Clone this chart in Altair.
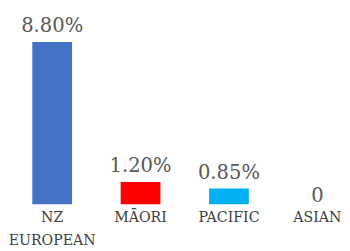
import altair as alt
import pandas as pd

categories = ["NZ EUROPEAN", "MĀORI", "PACIFIC", "ASIAN"]
values = [8.80, 1.20, 0.85, 0.0]
labels = ["8.80%", "1.20%", "0.85%", "0"]
colors = ["#4472C4", "#FF0000", "#00B0F0", "#A5A5A5"]

FONT = "DejaVu Serif"

df = pd.DataFrame({"cat": categories, "val": values, "label": labels})

x = alt.X(
    "cat:N",
    sort=categories,
    scale=alt.Scale(range=[0, 362], paddingInner=0.55, paddingOuter=0.275),
    axis=alt.Axis(
        title=None, domain=False, ticks=False, grid=False, labelAngle=0,
        labelFont=FONT, labelFontSize=14.5, labelColor="#404040",
        labelPadding=7, labelLineHeight=23, labelBaseline="top",
        labelExpr="split(datum.label, ' ')",
    ),
)
y = alt.Y("val:Q", scale=alt.Scale(domain=[0, 8.8], nice=False, zero=True), axis=None)

bars = alt.Chart(df).mark_bar().encode(
    x=x, y=y,
    color=alt.Color("cat:N", sort=categories,
                    scale=alt.Scale(domain=categories, range=colors), legend=None),
)

txt_pos = alt.Chart(df).transform_filter("datum.val > 0").mark_text(
    font=FONT, fontSize=20, color="#595959", dy=-10, baseline="alphabetic"
).encode(x=x, y=y, text=alt.Text("label:N"))

txt_zero = alt.Chart(df).transform_filter("datum.val == 0").mark_text(
    font=FONT, fontSize=20, color="#595959", dy=-2, baseline="alphabetic"
).encode(x=x, y=y, text=alt.Text("label:N"))

chart = alt.layer(bars, txt_pos, txt_zero).properties(
    width=342, height=166,
    autosize=alt.AutoSizeParams(type="none"),
    padding={"left": 0, "top": 32, "right": 0, "bottom": 45},
).configure_view(stroke=None)

chart.save("out.html", embed_options={"renderer": "svg", "actions": False})
